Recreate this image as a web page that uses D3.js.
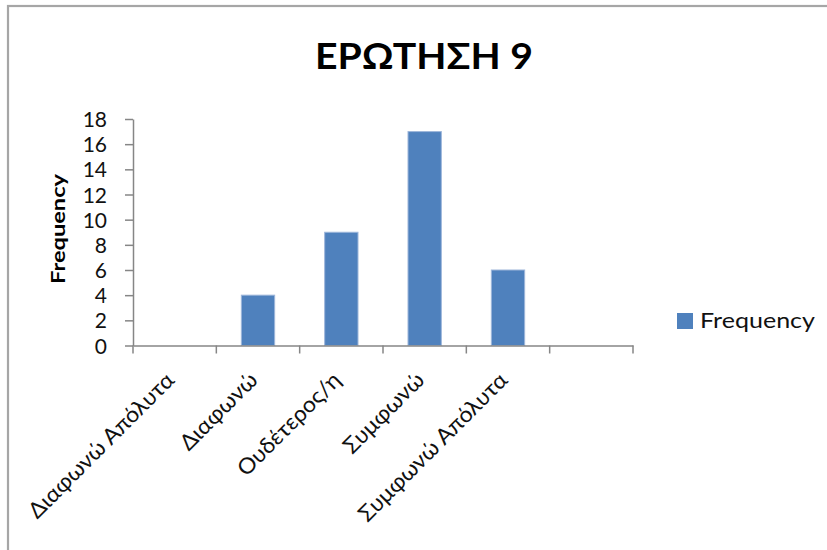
<!DOCTYPE html>
<html>
<head>
<meta charset="utf-8">
<script src="https://cdn.jsdelivr.net/npm/d3@7"></script>
<style>
  html, body { margin: 0; padding: 0; background: #fff; }
  svg { display: block; }
  text { font-family: Lato, "Open Sans", sans-serif; }
</style>
</head>
<body>
<svg id="chart" width="827" height="550"></svg>
<script>
// Survey answers for question 9
const categories = ["Διαφωνώ Απόλυτα", "Διαφωνώ", "Ουδέτερος/η", "Συμφωνώ", "Συμφωνώ Απόλυτα", ""];
const frequency = [0, 4, 9, 17, 6, null];
const yTicks = [0, 2, 4, 6, 8, 10, 12, 14, 16, 18];
const seriesName = "Frequency";
const chartTitle = "ΕΡΩΤΗΣΗ 9";

const svg = d3.select("#chart");

// chart frame
svg.append("rect")
  .attr("x", 8).attr("y", 6)
  .attr("width", 900).attr("height", 600)
  .attr("fill", "#fff")
  .attr("stroke", "#a6a6a6")
  .attr("stroke-width", 2.2);

const plot = { left: 133, right: 633, top: 119, bottom: 345.5 };

const x = d3.scaleBand()
  .domain(categories)
  .range([plot.left, plot.right])
  .paddingInner(0).paddingOuter(0);

const y = d3.scaleLinear()
  .domain([0, 18])
  .range([plot.bottom, plot.top]);

// title
svg.append("text")
  .attr("x", 424).attr("y", 69)
  .attr("text-anchor", "middle")
  .attr("font-size", 37)
  .attr("font-weight", 700)
  .attr("fill", "#000")
  .attr("textLength", 218)
  .attr("lengthAdjust", "spacingAndGlyphs")
  .text(chartTitle);

// bars
const data = categories.map((c, i) => ({ c, v: frequency[i] }));
const barW = x.bandwidth() / 2.5;
svg.append("g").selectAll("rect")
  .data(data.filter(d => d.v))
  .join("rect")
  .attr("x", d => x(d.c) + (x.bandwidth() - barW) / 2)
  .attr("y", d => y(d.v))
  .attr("width", barW)
  .attr("height", d => y(0) - y(d.v))
  .attr("fill", "#4f81bd")
  .attr("stroke", "#9db6da")
  .attr("stroke-width", 1);

// y axis
const yAxis = svg.append("g")
  .attr("transform", `translate(${plot.left},0)`)
  .call(d3.axisLeft(y).tickValues(yTicks).tickSize(8).tickPadding(18).tickSizeOuter(0));
yAxis.select(".domain").attr("stroke", "#868686").attr("stroke-width", 1.5);
yAxis.selectAll(".tick line").attr("stroke", "#868686").attr("stroke-width", 1.5);
yAxis.selectAll(".tick text")
  .attr("font-family", "Lato, 'Open Sans', sans-serif")
  .attr("font-size", 21)
  .attr("fill", "#111")
  .attr("dy", "0.36em");

// x axis line and boundary ticks
const xAxis = svg.append("g")
  .attr("transform", `translate(0,${plot.bottom})`)
  .call(d3.axisBottom(x).tickSize(0).tickFormat(""));
xAxis.select(".domain").attr("stroke", "#868686").attr("stroke-width", 1.5);
const bounds = categories.map(c => x(c)).concat([plot.right]);
xAxis.selectAll("line.bound")
  .data(bounds)
  .join("line")
  .attr("class", "bound")
  .attr("x1", d => d).attr("x2", d => d)
  .attr("y1", 0).attr("y2", 8)
  .attr("stroke", "#868686").attr("stroke-width", 1.5);

// rotated category labels, slightly widened
svg.append("g").selectAll("text")
  .data(categories.filter(c => c !== ""))
  .join("text")
  .attr("transform", d => `translate(${x(d) + x.bandwidth() / 2 + 1},${plot.bottom + 36}) rotate(-45)`)
  .attr("text-anchor", "end")
  .attr("font-size", 22)
  .attr("fill", "#111")
  .text(d => d)
  .each(function () {
    const w = this.getComputedTextLength();
    this.setAttribute("textLength", w * 1.05);
    this.setAttribute("lengthAdjust", "spacingAndGlyphs");
  });

// y axis title
svg.append("text")
  .attr("transform", `translate(65,229) rotate(-90)`)
  .attr("text-anchor", "middle")
  .attr("font-size", 19)
  .attr("font-weight", 700)
  .attr("fill", "#000")
  .attr("textLength", 110)
  .attr("lengthAdjust", "spacingAndGlyphs")
  .text(seriesName);

// legend
const legend = svg.append("g").attr("transform", "translate(677,313)");
legend.append("rect")
  .attr("width", 16).attr("height", 16)
  .attr("fill", "#4f81bd");
legend.append("text")
  .attr("x", 23).attr("y", 15)
  .attr("font-size", 21)
  .attr("fill", "#111")
  .attr("textLength", 115)
  .attr("lengthAdjust", "spacingAndGlyphs")
  .text(seriesName);
</script>
</body>
</html>
